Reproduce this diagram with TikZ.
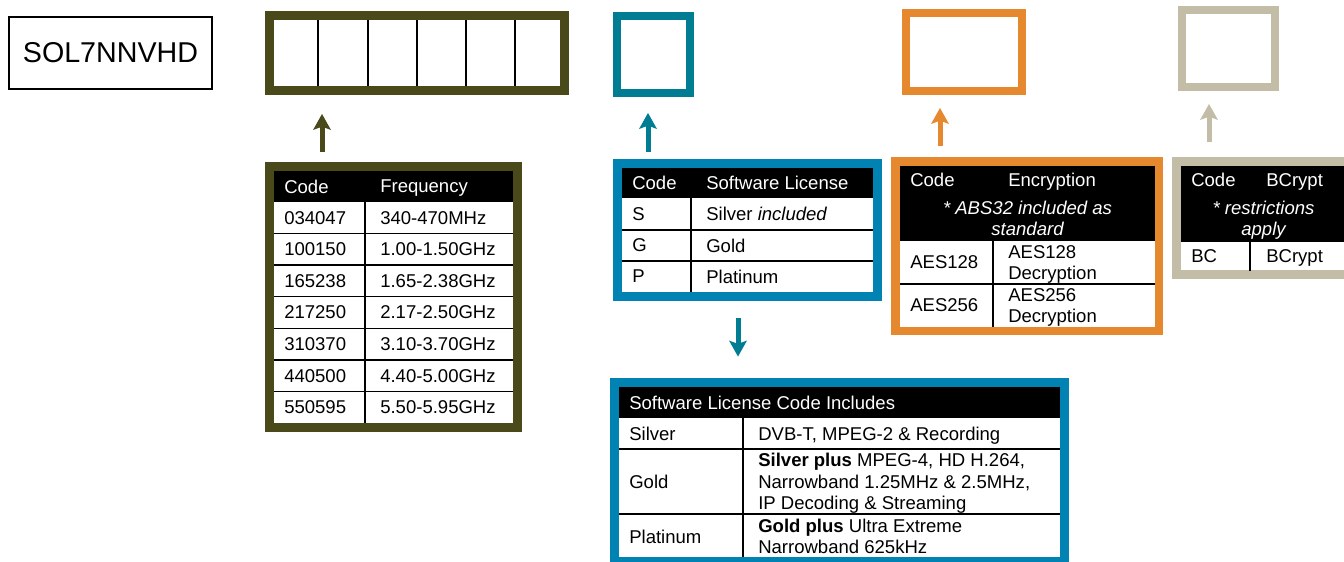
\documentclass[tikz,border=0pt]{standalone}
\usepackage{fontspec}
\setmainfont{Liberation Sans}
\usetikzlibrary{arrows.meta,positioning,calc}

\definecolor{olivebar}{RGB}{73,73,26}
\definecolor{tealbar}{RGB}{0,125,146}
\definecolor{bluebar}{RGB}{0,130,178}
\definecolor{orangebar}{RGB}{230,137,46}
\definecolor{sandbar}{RGB}{195,189,167}

\newcommand{\tabfont}{\fontsize{13.9pt}{16pt}\selectfont}
\tikzstyle{uparrow} = [line width=3.75pt,-{Stealth[length=12pt,width=13.5pt,inset=2.5pt,line width=0pt]}]
\tikzstyle{frame} = [inner sep=0pt,line width=6.5pt]
\tikzstyle{cell} = [anchor=west,inner sep=0pt,text depth=0pt,font=\tabfont]
\tikzstyle{hcell} = [cell,text=white]
\tikzstyle{grid} = [line width=1.1pt]

\begin{document}
\begin{tikzpicture}[x=0.75pt,y=-0.75pt]
   \useasboundingbox (0,0) rectangle (1344,561);

   % part number and the code slots
   \node[draw,line width=1.4pt,minimum width=152.5pt,minimum height=54pt,font=\fontsize{21.5pt}{24pt}\selectfont](partno) at (110.5,53) {SOL7NNVHD};
   \node[frame,draw=olivebar,line width=6.75pt,minimum width=221.25pt,minimum height=56.25pt](digits) at (417,53) {};
   \foreach \x in {318,368,417,466,515}
      \draw[line width=1.6pt] (\x,20) -- (\x,86);
   \node[frame,draw=tealbar,line width=6pt,minimum width=54.75pt,minimum height=57.75pt](licslot) at (653.5,54.5) {};
   \node[frame,draw=orangebar,line width=6pt,minimum width=87pt,minimum height=58.5pt](encslot) at (964,52) {};
   \node[frame,draw=sandbar,line width=6pt,minimum width=69.75pt,minimum height=57.75pt](bcslot) at (1228.5,48.5) {};

   % frequency table
   \node[frame,draw=olivebar,line width=6.75pt,minimum width=186pt,minimum height=195.4pt](freqtab) at (393.5,296.75) {};
   \fill (274,171) rectangle (513,202);
   \node[hcell](fqhc) at (284,186.5) {Code};
   \node[hcell](fqhf) at (380,186.5) {Frequency};
   \foreach \c/\f [count=\i] in {034047/340-470MHz,100150/1.00-1.50GHz,165238/1.65-2.38GHz,217250/2.17-2.50GHz,310370/3.10-3.70GHz,440500/4.40-5.00GHz,550595/5.50-5.95GHz}{
      \node[cell](fqc\i) at (284,{202+31.57*(\i-0.5)}) {\c};
      \node[cell](fqf\i) at (380,{202+31.57*(\i-0.5)}) {\f};
   }
   \foreach \i in {1,...,6}
      \draw[grid] (274,{202+31.57*\i}) -- (513,{202+31.57*\i});
   \draw[grid] (365,202) -- (365,423);

   % software license table
   \node[frame,draw=bluebar,line width=6.75pt,minimum width=195pt,minimum height=99.75pt](lictab) at (747.5,230) {};
   \fill (622,168) rectangle (873,198);
   \node[hcell](lchc) at (632,183) {Code};
   \node[hcell](lchs) at (706,183) {Software License};
   \node[cell](lcs) at (632,214) {S};
   \node[cell](lcsv) at (706,214) {Silver \textit{included}};
   \node[cell](lcg) at (632,245.5) {G};
   \node[cell](lcgv) at (706,245.5) {Gold};
   \node[cell](lcp) at (632,276.5) {P};
   \node[cell](lcpv) at (706,276.5) {Platinum};
   \draw[grid] (622,230) -- (873,230);
   \draw[grid] (622,261) -- (873,261);
   \draw[grid] (691,198) -- (691,292);

   % encryption table
   \node[frame,draw=orangebar,line width=6.4pt,minimum width=197.6pt,minimum height=127.1pt](enctab) at (1027.25,246.25) {};
   \fill (900,166) rectangle (1155,241);
   \node[hcell](enhc) at (910,180) {Code};
   \node[hcell](enhe) at (1008,180) {Encryption};
   \node[hcell,anchor=center,align=center,font=\tabfont\itshape](ennote) at (1027.5,218.5) {* ABS32 included as\\standard};
   \node[cell](en1) at (910,262.5) {AES128};
   \node[cell,align=left](en1v) at (1008,262.5) {AES128\\Decryption};
   \node[cell](en2) at (910,305.5) {AES256};
   \node[cell,align=left](en2v) at (1008,305.5) {AES256\\Decryption};
   \draw[grid] (900,284) -- (1155,284);
   \draw[grid] (993,241) -- (993,327);

   % bcrypt table
   \node[frame,draw=sandbar,line width=6.75pt,minimum width=130.5pt,minimum height=85.1pt](bctab) at (1263.5,218.25) {};
   \fill (1181,166) rectangle (1346,242);
   \node[hcell](bchc) at (1191,180) {Code};
   \node[hcell](bchb) at (1266,180) {BCrypt};
   \node[hcell,anchor=center,align=center,font=\tabfont\itshape](bcnote) at (1263.5,218.5) {* restrictions\\apply};
   \node[cell](bc1) at (1191,256.5) {BC};
   \node[cell](bc1v) at (1266,256.5) {BCrypt};
   \draw[grid] (1250,242) -- (1250,271);

   % license contents table
   \node[frame,draw=bluebar,line width=6.75pt,minimum width=337.5pt,minimum height=134.6pt](inctab) at (839.5,471.75) {};
   \fill (619,387) rectangle (1060,418);
   \node[hcell](inhd) at (629,402.5) {Software License Code Includes};
   \node[cell](ins) at (629,433.5) {Silver};
   \node[cell](insv) at (758,433.5) {DVB-T, MPEG-2 \& Recording};
   \node[cell](ing) at (629,481.5) {Gold};
   \node[cell,align=left](ingv) at (758,481.5) {\textbf{Silver plus} MPEG-4, HD H.264,\\Narrowband 1.25MHz \& 2.5MHz,\\IP Decoding \& Streaming};
   \node[cell](inp) at (629,536.5) {Platinum};
   \node[cell,align=left](inpv) at (758,536.5) {\textbf{Gold plus} Ultra Extreme\\Narrowband 625kHz};
   \draw[grid] (619,449) -- (1060,449);
   \draw[grid] (619,514) -- (1060,514);
   \draw[grid] (743,418) -- (743,557);

   % arrows
   \draw[uparrow,olivebar,shorten <=7.5pt,shorten >=14.25pt] (freqtab.north -| 322,0) -- (digits.south -| 322,0);
   \draw[uparrow,tealbar,shorten <=5.25pt,shorten >=12pt] (lictab.north -| 648,0) -- (licslot.south -| 648,0);
   \draw[uparrow,orangebar,shorten <=8.25pt,shorten >=9.75pt] (enctab.north -| 940,0) -- (encslot.south -| 940,0);
   \draw[uparrow,sandbar,shorten <=11.25pt,shorten >=9.75pt] (bctab.north -| 1209,0) -- (bcslot.south -| 1209,0);
   \draw[uparrow,tealbar,shorten <=12.75pt,shorten >=15.75pt] (lictab.south -| 738,0) -- (inctab.north -| 738,0);
\end{tikzpicture}
\end{document}
